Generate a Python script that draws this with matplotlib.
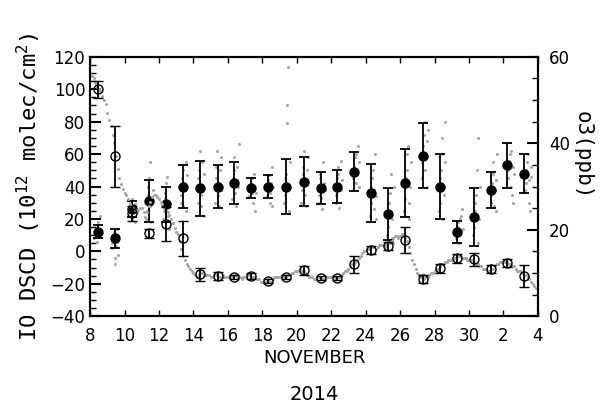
import numpy as np
import matplotlib
matplotlib.use("Agg")
import matplotlib.pyplot as plt
from matplotlib.ticker import MultipleLocator, FixedLocator

plt.rcParams["mathtext.default"] = "regular"

# daily means (day of Nov 2014; 31 = Dec 1)
io_day = [8.47, 9.45, 10.44, 11.43, 12.42, 13.40, 14.40, 15.40, 16.37, 17.36,
          18.35, 19.40, 20.40, 21.40, 22.36, 23.35, 24.30, 25.30, 26.30, 27.30,
          28.30, 29.30, 30.30, 31.30, 32.22, 33.22]
io_mean = [12, 8, 26, 31, 29, 40, 39, 40, 42, 39, 40, 40, 43, 39, 40, 49,
           36, 23, 42, 59, 40, 12, 21, 38, 53, 48]
io_err = [4, 6, 5, 13, 11, 13, 17, 13, 13, 6, 7, 17, 15, 10, 10, 12,
          18, 16, 21, 20, 20, 7, 18, 11, 14, 12]

o3_mean = [52.5, 37, 23.8, 19.2, 21.3, 18, 9.7, 9.3, 9, 9.3, 8.1, 9, 10.6,
           8.8, 8.8, 12, 15.3, 16.2, 17.6, 8.6, 11.1, 13.4, 13.2, 10.9, 12.3, 9.3]
o3_err = [2, 7, 1.8, 1, 4, 4, 1.5, 1, 0.5, 0.6, 0.5, 0.5, 1, 0.5, 0.5, 2,
          1, 1, 3, 1, 1, 1, 1.5, 1, 1, 2.5]

# individual IO scans, hours 6..15 of each day
io_hours = [6, 7, 8, 9, 10, 11, 12, 13, 14, 15]
io_scans = [
    [8, 10, 12, 14, 6, 18, 11, 9, 22, 13],
    [2, 5, 10, 12, -4, -8, 3, 6, 14, -2],
    [22, 24, 28, 30, 20, 32, 26, 25, 18, 29],
    [20, 25, 35, 40, 45, 28, 55, 18, 33, 38],
    [20, 25, 33, 36, 42, 46, 22, 28, 14, 30],
    [30, 35, 45, 50, 28, 42, 38, 55, 25, 47],
    [30, 45, 50, 62, 35, 28, 55, 40, 22, 48],
    [30, 45, 52, 62, 35, 28, 42, 50, 38, 58],
    [32, 45, 50, 58, 36, 28, 44, 52, 40, 66],
    [34, 38, 42, 45, 36, 30, 40, 48, 25, 36],
    [34, 38, 44, 47, 36, 30, 42, 52, 28, 40],
    [30, 35, 45, 48, 79, 90, 114, 25, 40, 55],
    [30, 38, 48, 52, 62, 35, 44, 28, 50, 58],
    [30, 35, 45, 48, 33, 26, 40, 55, 42, 38],
    [30, 35, 45, 48, 52, 27, 40, 56, 38, 44],
    [38, 45, 52, 58, 60, 42, 48, 65, 40, 55],
    [22, 30, 40, 45, 50, 26, 38, 60, 20, 34],
    [10, 15, 25, 30, 36, 48, 8, 20, 5, 40],
    [25, 32, 45, 50, 60, 65, 30, 20, 40, 55],
    [45, 55, 65, 72, 80, 50, 60, 40, 68, 75],
    [25, 30, 45, 50, 60, 70, 20, 35, 55, 80],
    [8, 10, 15, 18, 5, 20, 12, 22, 26, 14],
    [10, 15, 25, 30, 35, 50, 70, 5, 20, 40],
    [30, 35, 42, 48, 55, 28, 38, 44, 25, 60],
    [45, 50, 56, 60, 62, 40, 35, 30, 52, 48],
    [38, 42, 50, 55, 60, 44, 30, 25, 46, 52],
]

# surface ozone (ppb), every 0.1 day from Nov 8.0
o3_start = 8.0
o3_ppb = [
    56, 55.5, 55, 54, 53, 52.5, 52, 51, 50, 49,
    47, 45.5, 44, 42, 40, 37, 34, 32, 30.5, 29.5,
    28.5, 28, 27, 26, 25.5, 25, 24.5, 24, 24.5, 25,
    25, 24, 23, 24, 25.5, 26.5, 27.5, 28, 28, 27.5,
    27, 26.5, 26, 25, 24.5, 24, 23.5, 22.5, 21.5, 20.5,
    19.5, 19, 17.5, 15.5, 14, 13, 12, 11.5, 11, 10.5,
    10, 9.5, 9, 9.5, 10, 10, 9.5, 9.5, 9.5, 9.5,
    9, 9, 9.5, 9.5, 9, 9, 9, 9.5, 9, 9,
    9, 9, 9, 9, 9.5, 9, 9, 9, 8.5, 9,
    9, 9.5, 9.5, 9.5, 9, 9, 9, 8.5, 8.5, 8,
    8, 8, 8, 8.5, 8, 8, 8.5, 9, 9, 9,
    9, 9, 9, 9.5, 9, 9.5, 9.5, 10, 10, 10.5,
    10.5, 10.5, 11, 10.5, 10.5, 10, 9.5, 9, 9, 9,
    8.5, 8.5, 9, 9, 9, 8.5, 8.5, 9, 9, 9,
    9, 9, 9, 8.5, 9, 9, 9.5, 10, 10.5, 10.5,
    11, 11.5, 12, 12, 12.5, 13, 13.5, 14, 14.5, 15,
    15, 15.5, 15.5, 16, 16, 16, 15.5, 16, 16.5, 16.5,
    16.5, 16, 16.5, 17, 17, 17.5, 18, 18.5, 18.5, 18,
    18.5, 19, 18.5, 18, 17.5, 16, 14.5, 13, 12, 11,
    10, 9.5, 9, 9, 8.5, 9, 9, 9.5, 10, 10,
    10.5, 11, 11, 11.5, 12, 12, 12.5, 12.5, 13, 13,
    13, 13.5, 13.5, 14, 14, 14, 13.5, 13.5, 13.5, 13,
    13, 13, 13, 12.5, 12, 12, 11.5, 11.5, 11, 11,
    11, 10.5, 10.5, 11, 11, 11.5, 12, 12, 12.5, 12.5,
    12.5, 12.5, 12.5, 12, 12, 11.5, 11.5, 11, 10.5, 10.5,
    10.5, 10, 9.5, 9.5, 9, 8.5, 8, 7.5, 7, 6.5,
]

xticks = [8, 10, 12, 14, 16, 18, 20, 22, 24, 26, 28, 30, 32, 34]
xticklabels = ["8", "10", "12", "14", "16", "18", "20", "22", "24", "26",
               "28", "30", "2", "4"]

fig = plt.figure(figsize=(6.01, 4.09), dpi=100)
ax = fig.add_axes([0.150, 0.227, 0.745, 0.634])
ax2 = ax.twinx()

gray = "#a6a6a6"
# ozone trace and IO scans
o3_t = o3_start + 0.1 * np.arange(len(o3_ppb))
ax2.plot(o3_t, o3_ppb, "o", color=gray, ms=2.2, mew=0)
for d, vals in zip(io_day, io_scans):
    t = np.floor(d) + np.array(io_hours) / 24.0
    ax.plot(t, vals, "o", color=gray, ms=2.2, mew=0)

ax2.errorbar(io_day, o3_mean, yerr=o3_err, fmt="o", ms=6.5, mfc="none",
             mec="black", mew=1.0, ecolor="black", elinewidth=1.3,
             capsize=3.5, capthick=1.3)
ax.errorbar(io_day, io_mean, yerr=io_err, fmt="o", ms=6.5, color="black",
            ecolor="black", elinewidth=1.3, capsize=3.5, capthick=1.3, zorder=5)

ax.set_xlim(8, 34)
ax.set_ylim(-40, 120)
ax2.set_ylim(0, 60)
ax.set_xticks(xticks)
ax.set_xticklabels(xticklabels)
ax.yaxis.set_major_locator(MultipleLocator(20))
ax.yaxis.set_minor_locator(MultipleLocator(5))
ax2.yaxis.set_major_locator(MultipleLocator(20))
ax2.yaxis.set_minor_locator(MultipleLocator(5))
ax.xaxis.set_minor_locator(FixedLocator([30]))

ax.tick_params(axis="x", which="major", direction="in", top=True, length=4,
               width=1, labelsize=12, pad=8)
ax.tick_params(axis="x", which="minor", direction="in", top=True, length=9,
               width=1.5)
ax.tick_params(axis="y", which="major", direction="in", length=8, width=1.5,
               labelsize=12)
ax.tick_params(axis="y", which="minor", direction="in", length=4, width=1)
ax2.tick_params(axis="y", which="major", direction="in", length=8, width=1.5,
                labelsize=12, pad=8)
ax2.tick_params(axis="y", which="minor", direction="in", length=4, width=1)
for a in (ax, ax2):
    for s in a.spines.values():
        s.set_linewidth(1.5)

ax.set_ylabel("IO DSCD (10$^{12}$ molec/cm$^{2}$)", family="DejaVu Sans Mono",
              fontsize=16)
ax.yaxis.set_label_coords(-0.105, 0.5)
fig.text(0.970, 0.62, "o3(ppb)", family="DejaVu Sans Mono", fontsize=15,
         rotation=270, ha="center", va="center")
fig.text(0.523, 0.125, "NOVEMBER", fontsize=13, ha="center", va="center")
fig.text(0.523, 0.035, "2014", fontsize=14, ha="center", va="center")

fig.savefig("out.png", dpi=100)
